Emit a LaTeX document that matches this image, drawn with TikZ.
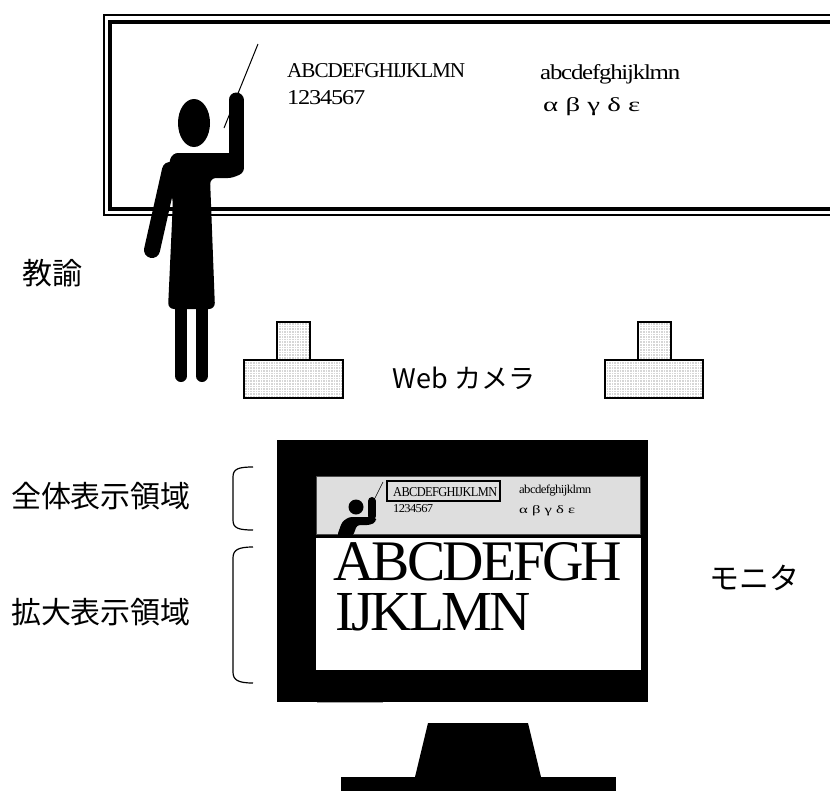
\documentclass[tikz,border=0pt]{standalone}
\usepackage{graphicx}
\usepackage{fontspec}
\setmainfont{Liberation Serif}
\newfontfamily\tightserif[LetterSpace=-5]{Liberation Serif}
\newfontfamily\jpfont{Noto Sans CJK JP}
% set a text to an exact width and height (in pt)
\newcommand{\fitbox}[3]{\resizebox{#1pt}{#2pt}{\tightserif #3}}
\tikzset{
  serif/.style={inner sep=0pt, anchor=base west},
  jplabel/.style={font=\jpfont\fontsize{30}{30}\selectfont, inner sep=0pt},
  limb/.style={line width=#1, line cap=round},
  camerabox/.style={draw=black, line width=1.6},
  brace/.style={line width=1.2},
}
% a box of the camera, filled with a fine grey grid texture
\newcommand{\camerapart}[2]{%
  \begin{scope}
    \clip #1 rectangle #2;
    \fill[black!16] #1 rectangle #2;
    \draw[white, line width=0.5, step=2.6pt] #1 grid #2;
  \end{scope}
  \draw[camerabox] #1 rectangle #2;
}
\begin{document}
\begin{tikzpicture}[x=1pt,y=-1pt]
\useasboundingbox (0,0) rectangle (830,790);
\begin{scope}
\clip (0,0) rectangle (830,790);

% ---------- blackboard ----------
\draw[line width=2] (104,15) rectangle (850,215);
\draw[line width=3.5] (110,22) rectangle (850,209);

\node[serif] (bA) at (287,77) {\fitbox{178}{14}{ABCDEFGHIJKLMN}};
\node[serif] (bN) at (287,104) {\fitbox{78}{14}{1234567}};
\node[serif] (ba) at (540,79) {\fitbox{140}{15}{abcdefghijklmn}};
\node[serif] (bg) at (543,111) {\resizebox{97pt}{14pt}{α β γ δ ε}};

% ---------- teacher ----------
\fill (194,123) ellipse [x radius=16, y radius=24];
\draw[limb=15] (236,100) -- (236,168);
\fill[rounded corners=6] (166,175) -- (172,153) -- (243,153) -- (243,172) -- (234,178)
   -- (210,178) -- (215,309) -- (168,309) -- (173,200) -- cycle;
\draw[limb=16] (170,170) -- (152,250);
\draw[limb=12] (181,305) -- (181,376);
\draw[limb=12] (202,305) -- (202,376);
\draw[line width=1] (224,128) -- (258,44);

\node[jplabel] (teacher) at (53,273) {教諭};

% ---------- web cameras ----------
\camerapart{(277,322)}{(310,360)}
\camerapart{(244,360)}{(343,398)}
\camerapart{(638,322)}{(671,360)}
\camerapart{(605,360)}{(703,398)}
\node[font=\jpfont\fontsize{27}{27}\selectfont, inner sep=0pt] (cam) at (464,378) {Web カメラ};

% ---------- monitor ----------
\fill (277,440) rectangle (648,702);
\draw[gray!70, line width=1] (317,702) -- (383,702);
\fill (428,723) -- (528,723) -- (541,777) -- (415,777) -- cycle;
\fill (341,777) rectangle (616,795);

% overview area
\draw[fill=black!13, draw=black!70, line width=1] (316.5,476) rectangle (640.5,534);
\fill (356,507) circle [radius=7.5];
\draw[limb=8] (372,501) -- (372,516);
\fill[rounded corners=3] (337,536) -- (342,522) -- (349,517) -- (376,517) -- (376,522)
   -- (370,525) -- (357,525) -- (353,536) -- cycle;
\draw[line width=0.6] (375,498) -- (383,482);
\draw[line width=2] (387,481) rectangle (500,501);
\node[serif] (mA) at (393,496) {\fitbox{104}{9}{ABCDEFGHIJKLMN}};
\node[serif] (mN) at (393,512) {\fitbox{40}{8}{1234567}};
\node[serif] (ma) at (519,493) {\fitbox{72}{8.5}{abcdefghijklmn}};
\node[serif] (mg) at (519,513) {\resizebox{56pt}{8pt}{α β γ δ ε}};

% magnified area
\fill[white] (316,538) rectangle (641,670);
\node[serif] (zA) at (333,580) {\fitbox{289}{38}{ABCDEFGH}};
\node[serif] (zB) at (335,630) {\fitbox{195}{37}{IJKLMN}};

\node[jplabel] (monitor) at (754,578) {モニタ};

% ---------- area labels ----------
\draw[brace] (253,467) .. controls (238,467) and (233,469) .. (233,477)
   -- (233,520) .. controls (233,528) and (238,530) .. (253,530);
\draw[brace] (253,547) .. controls (238,547) and (233,550) .. (233,558)
   -- (233,672) .. controls (233,680) and (238,683) .. (253,683);
\node[jplabel] (whole) at (101,496) {全体表示領域};
\node[jplabel] (zoomed) at (101,612) {拡大表示領域};
\end{scope}
\end{tikzpicture}
\end{document}
